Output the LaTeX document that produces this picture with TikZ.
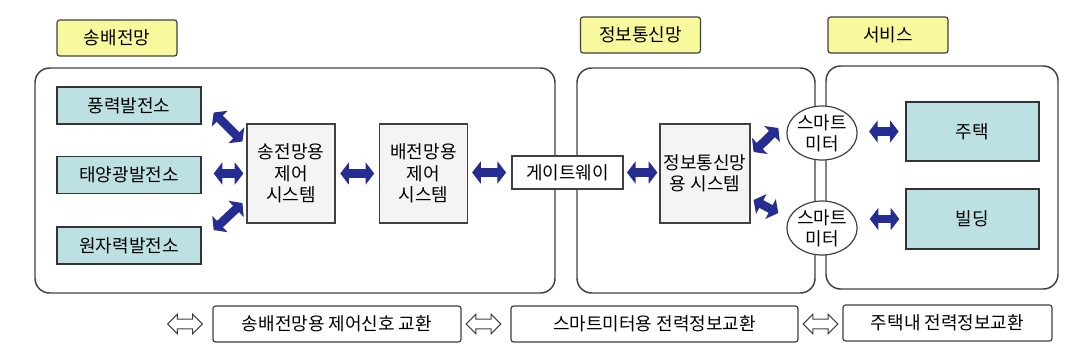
\documentclass[tikz,border=0pt]{standalone}
\usepackage{fontspec}
\setmainfont{Noto Sans CJK KR}
\usetikzlibrary{arrows.meta,calc,shapes.geometric,shapes.arrows,positioning}
\definecolor{tagyellow}{HTML}{F8F89C}
\definecolor{plantteal}{HTML}{BDE0E2}
\definecolor{ctrlgray}{HTML}{F4F4F4}
\definecolor{arrownavy}{HTML}{262D92}
\tikzset{
  netframe/.style={draw=black!75, line width=1.1pt, rounded corners=11pt},
  tag/.style={draw=black!75, fill=tagyellow, line width=0.9pt, rounded corners=2pt,
    minimum width=90pt, minimum height=27pt, inner sep=0pt},
  plant/.style={draw=black!80, fill=plantteal, line width=1pt,
    minimum width=108pt, minimum height=27.75pt, inner sep=0pt},
  ctrl/.style={draw=black!75, fill=ctrlgray, line width=0.9pt, align=center,
    minimum width=66pt, minimum height=74.25pt, inner sep=0pt},
  meter/.style={ellipse, draw=black!75, fill=white, line width=0.9pt, align=center,
    minimum width=48pt, minimum height=40.5pt, inner sep=0pt},
  legend/.style={draw=black!75, fill=white, line width=0.9pt, rounded corners=2pt,
    minimum height=27pt, inner sep=0pt},
  hollow/.style={double arrow, draw=black!75, fill=white, line width=0.8pt,
    minimum height=26pt, inner xsep=0pt, inner ysep=3.3pt,
    double arrow head extend=3.6pt},
  bigarrow/.style={arrownavy, line width=6.5pt,
    {Triangle[length=6.5pt,width=16.5pt]}-{Triangle[length=6.5pt,width=16.5pt]}}
}

\begin{document}
\begin{tikzpicture}[x=0.75pt, y=-0.75pt, font=\fontsize{13.5}{16}\selectfont]
  \useasboundingbox (0,0) rectangle (1074,355);
  % network frames
  \draw[netframe] (35,68) rectangle (555,293);
  \draw[netframe] (577,68) rectangle (815,293);
  \draw[netframe] (826,66) rectangle (1058,289);
  % section tags
  \node[tag] (tgrid) at (117,38) {송배전망};
  \node[tag] (tict) at (640.5,35) {정보통신망};
  \node[tag] (tsvc) at (888,35) {서비스};
  % power plants
  \node[plant] (wind) at (129,105.5) {풍력발전소};
  \node[plant] (solar) at (129,175) {태양광발전소};
  \node[plant] (nuclear) at (129,245.5) {원자력발전소};
  % control systems
  \node[ctrl] (trans) at (291,173.5) {송전망용\\제어\\시스템};
  \node[ctrl] (dist) at (423.5,173.5) {배전망용\\제어\\시스템};
  \node[draw=black!75, fill=white, line width=0.9pt, minimum width=83.25pt,
    minimum height=24.75pt, inner sep=0pt] (gate) at (567.5,172.5) {게이트웨이};
  \node[ctrl, minimum width=67.5pt] (info) at (705,173.5) {정보통신망\\용 시스템};
  % smart meters and services
  \node[meter] (meterA) at (822,133) {스마트\\미터};
  \node[meter] (meterB) at (822,228) {스마트\\미터};
  \node[plant, minimum width=99.75pt, minimum height=44.25pt] (house) at (972.5,131.5) {주택};
  \node[plant, minimum width=99.75pt, minimum height=45pt] (bldg) at (972.5,219) {빌딩};
  % links
  \draw[bigarrow] ($(wind.east)+(12,7)$) -- ($(trans.west)+(-4,-32)$);
  \draw[bigarrow, shorten <=9pt, shorten >=2.25pt] (solar.east |- trans.west) -- (trans.west);
  \draw[bigarrow] ($(nuclear.east)+(12,-15.5)$) -- ($(trans.west)+(-4,29.5)$);
  \draw[bigarrow, shorten <=3.5pt, shorten >=3.5pt] (trans.east) -- (dist.west);
  \draw[bigarrow, shorten <=3pt, shorten >=4pt] (dist.east |- gate.west) -- (gate.west);
  \draw[bigarrow, shorten <=2.5pt, shorten >=1.5pt] (gate.east) -- (gate.east -| info.west);
  \draw[bigarrow] ($(info.east)+(3,-21.5)$) -- ($(meterA.west)+(-8,-5)$);
  \draw[bigarrow] ($(info.east)+(3,26.5)$) -- ($(meterB.west)+(-8,-15)$);
  \draw[bigarrow, shorten <=8.5pt, shorten >=5pt] (house.west -| meterA.east) -- (house.west);
  \draw[bigarrow, shorten <=9pt, shorten >=4.5pt] (bldg.west -| meterB.east) -- (bldg.west);
  % legend row
  \node[hollow] (hA) at (185,324) {};
  \node[legend, minimum width=186pt] (lgrid) at (337,324) {송배전망용 제어신호 교환};
  \node[hollow] (hB) at (483.5,324) {};
  \node[legend, minimum width=215.25pt] (lmeter) at (654.5,324) {스마트미터용 전력정보교환};
  \node[hollow] (hC) at (820.5,324) {};
  \node[legend, minimum width=156.75pt] (lhome) at (947.5,323) {주택내 전력정보교환};
\end{tikzpicture}
\end{document}
